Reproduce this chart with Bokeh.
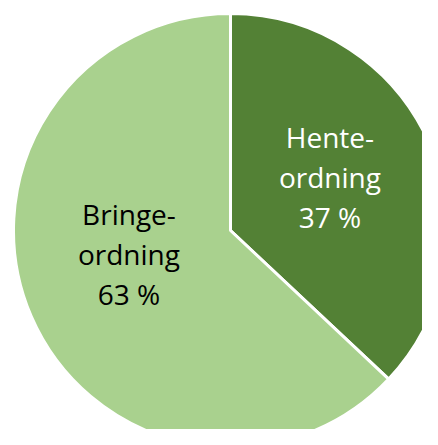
import math
from bokeh.plotting import figure
from bokeh.models import Range1d, ColumnDataSource
from bokeh.embed import file_html
from bokeh.resources import INLINE
from bokeh.core.properties import value

categories = ["Hente-\nordning", "Bringe-\nordning"]
shares = [37, 63]
colors = ["#538135", "#A9D18E"]
text_colors = ["#FFFFFF", "#000000"]

W, H = 422, 429
cx, cy = 230, H - 230
R = 217

total = sum(shares)
starts, ends, mids = [], [], []
a = math.pi / 2
for s in shares:
    sweep = 2 * math.pi * s / total
    starts.append(a)
    ends.append(a - sweep)
    mids.append(a - sweep / 2)
    a -= sweep

labels = [f"{c}\n{s} %" for c, s in zip(categories, shares)]
# label placement (Excel best-fit, nudged)
label_r = [0.52 * R, 0.48 * R]
angle_nudge = [math.radians(4.8), math.radians(-10.5)]
lx = [cx + r * math.cos(m + n) for r, m, n in zip(label_r, mids, angle_nudge)]
ly = [cy + r * math.sin(m + n) for r, m, n in zip(label_r, mids, angle_nudge)]

p = figure(width=W, height=H, output_backend="svg", toolbar_location=None,
           x_range=Range1d(0, W), y_range=Range1d(0, H), min_border=0)
p.axis.visible = False
p.grid.visible = False
p.outline_line_color = None
p.background_fill_color = "white"
p.border_fill_color = "white"

src = ColumnDataSource(dict(start=starts, end=ends, color=colors))
p.wedge(x=cx, y=cy, radius=R, start_angle="start", end_angle="end",
        direction="clock", fill_color="color", line_color="white",
        line_width=3, source=src)

tsrc = ColumnDataSource(dict(x=lx, y=ly, text=labels, color=text_colors))
p.text(x="x", y="y", text="text", text_color="color", source=tsrc,
       text_font=value("Open Sans"), text_font_size="28px",
       text_align="center", text_baseline="middle", text_line_height=1.05)

open("out.html", "w").write(file_html(p, INLINE))
